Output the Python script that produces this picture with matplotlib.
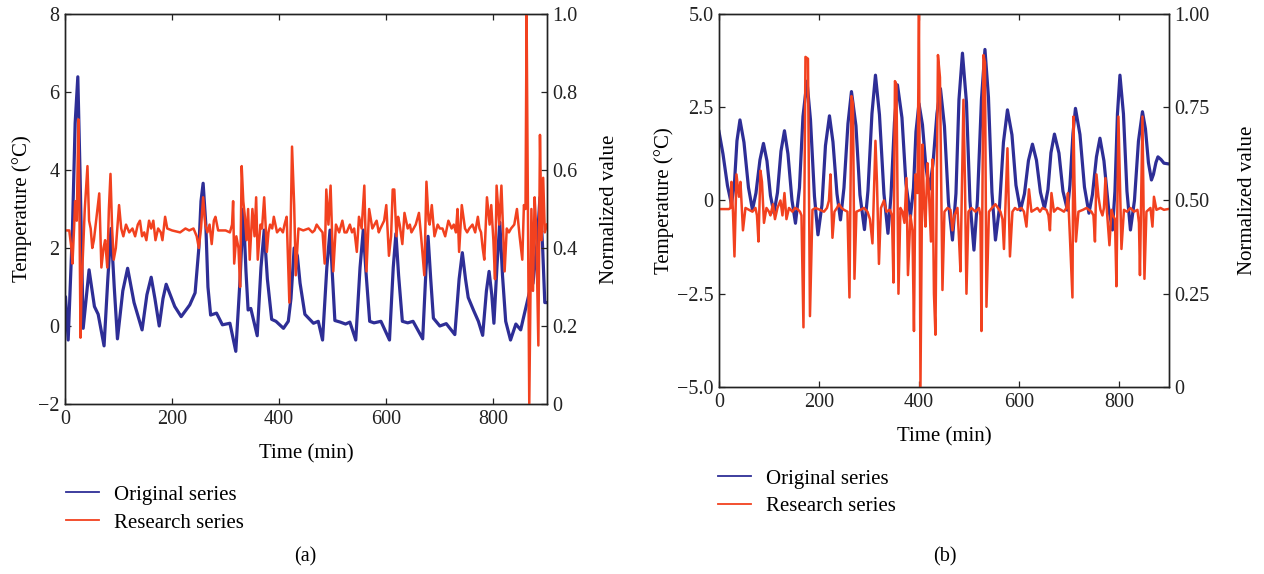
import matplotlib
matplotlib.use("Agg")
import matplotlib.pyplot as plt
from matplotlib.lines import Line2D

plt.rcParams['font.family'] = ['Liberation Serif', 'DejaVu Serif']

# ---- panel (a) data ----
a_orig_t = [0, 1, 6, 14, 19, 24, 28, 34, 45, 55, 62, 73, 80, 86, 92, 98, 108, 117, 129, 144,
            153, 161, 168, 176, 183, 189, 205, 217, 233, 243, 250, 254, 258, 263, 267, 272,
            283, 294, 308, 319, 327, 333, 338, 342, 347, 359, 366, 372, 378, 386, 394, 408,
            417, 422, 428, 434, 439, 448, 464, 473, 481, 489, 495, 499, 504, 514, 524, 532,
            543, 551, 557, 562, 569, 577, 590, 606, 613, 618, 623, 630, 640, 650, 668, 674,
            678, 683, 688, 700, 712, 728, 736, 742, 748, 753, 763, 772, 780, 787, 792, 797,
            801, 807, 812, 817, 823, 832, 842, 851, 856, 868, 874, 882, 887, 892, 896, 900]
a_orig_y = [0.7, 0.75, -0.36, 2.5, 5.2, 6.39, 4.0, -0.06, 1.44, 0.5, 0.3, -0.51, 1.2, 2.5,
            1.0, -0.33, 0.9, 1.48, 0.6, -0.1, 0.8, 1.25, 0.7, 0.0, 0.7, 1.07, 0.5, 0.24, 0.54,
            0.85, 2.0, 3.2, 3.66, 2.6, 1.0, 0.28, 0.33, 0.03, 0.07, -0.65, 1.2, 3.0, 1.4, 0.41,
            0.45, -0.25, 1.5, 2.46, 1.2, 0.17, 0.12, -0.06, 0.12, 0.7, 2.0, 1.8, 1.1, 0.3, 0.07,
            0.12, -0.36, 1.5, 2.46, 1.4, 0.14, 0.1, 0.05, 0.1, -0.36, 1.5, 2.46, 1.4, 0.12,
            0.08, 0.12, -0.36, 1.5, 2.37, 1.3, 0.12, 0.08, 0.12, -0.33, 1.4, 2.3, 1.2, 0.2,
            0.0, 0.06, -0.22, 1.2, 1.88, 1.2, 0.73, 0.4, 0.12, -0.24, 0.9, 1.4, 0.8, 0.07, 1.6,
            2.66, 1.3, 0.12, -0.36, 0.05, -0.1, 0.2, 0.9, 1.1, 2.2, 3.3, 2.0, 0.6, 0.6]
a_res_t = [0, 8, 12, 14, 17, 19, 22, 25, 27, 29, 31, 34, 37, 42, 45, 48, 51, 54, 59, 64, 68,
           72, 75, 79, 82, 85, 88, 91, 95, 101, 105, 109, 114, 120, 126, 131, 136, 140, 144,
           148, 152, 157, 161, 165, 169, 174, 179, 182, 187, 191, 200, 215, 225, 232, 240,
           246, 250, 254, 258, 262, 266, 270, 274, 278, 281, 286, 300, 308, 312, 314, 316,
           320, 324, 327, 330, 333, 336, 339, 342, 345, 350, 354, 357, 360, 365, 368, 372,
           375, 377, 380, 383, 387, 390, 396, 402, 407, 410, 414, 419, 424, 428, 431, 436,
           445, 455, 462, 466, 470, 475, 481, 485, 488, 492, 496, 501, 506, 512, 518, 522,
           526, 532, 536, 540, 545, 549, 554, 559, 563, 568, 574, 578, 582, 586, 589, 596,
           600, 605, 609, 612, 615, 619, 622, 625, 630, 634, 640, 644, 647, 651, 655, 661,
           665, 671, 675, 679, 681, 685, 690, 696, 700, 705, 710, 716, 722, 726, 730, 733,
           736, 741, 747, 751, 755, 761, 766, 771, 774, 777, 780, 783, 788, 793, 796, 800,
           803, 806, 811, 815, 818, 821, 825, 829, 833, 839, 844, 849, 854, 857, 860, 862,
           867, 871, 874, 877, 880, 884, 887, 890, 893, 896, 900]
a_res_y = [0.445, 0.445, 0.40, 0.36, 0.45, 0.52, 0.47, 0.73, 0.50, 0.17, 0.30, 0.40, 0.50,
           0.61, 0.47, 0.45, 0.40, 0.42, 0.48, 0.54, 0.35, 0.40, 0.42, 0.35, 0.50, 0.59, 0.45,
           0.37, 0.40, 0.51, 0.45, 0.43, 0.46, 0.44, 0.45, 0.43, 0.46, 0.47, 0.43, 0.44, 0.42,
           0.47, 0.45, 0.47, 0.42, 0.45, 0.44, 0.42, 0.48, 0.45, 0.445, 0.44, 0.45, 0.445,
           0.45, 0.43, 0.40, 0.45, 0.53, 0.46, 0.44, 0.46, 0.41, 0.47, 0.48, 0.445, 0.445,
           0.44, 0.46, 0.52, 0.36, 0.43, 0.40, 0.30, 0.61, 0.52, 0.48, 0.42, 0.50, 0.37, 0.50,
           0.43, 0.53, 0.37, 0.46, 0.45, 0.53, 0.45, 0.39, 0.44, 0.46, 0.45, 0.48, 0.44, 0.45,
           0.44, 0.46, 0.48, 0.26, 0.66, 0.51, 0.33, 0.45, 0.445, 0.45, 0.44, 0.445, 0.46,
           0.45, 0.44, 0.36, 0.55, 0.46, 0.56, 0.34, 0.46, 0.44, 0.47, 0.44, 0.44, 0.46, 0.44,
           0.45, 0.39, 0.48, 0.45, 0.56, 0.34, 0.50, 0.45, 0.46, 0.47, 0.44, 0.45, 0.47, 0.51,
           0.38, 0.43, 0.55, 0.55, 0.43, 0.48, 0.46, 0.41, 0.49, 0.45, 0.46, 0.44, 0.45, 0.46,
           0.49, 0.43, 0.33, 0.57, 0.47, 0.46, 0.51, 0.43, 0.46, 0.45, 0.45, 0.43, 0.47, 0.45,
           0.46, 0.44, 0.50, 0.39, 0.51, 0.45, 0.44, 0.45, 0.46, 0.44, 0.48, 0.45, 0.44, 0.40,
           0.37, 0.53, 0.46, 0.51, 0.42, 0.32, 0.56, 0.46, 0.56, 0.45, 0.34, 0.45, 0.44, 0.45,
           0.46, 0.50, 0.43, 0.37, 0.51, 0.50, 1.0, 0.0, 0.50, 0.29, 0.53, 0.45, 0.15, 0.69,
           0.42, 0.58, 0.44, 0.46]

# ---- panel (b) data ----
b_orig_t = [0, 8, 17, 25, 31, 36, 42, 50, 59, 67, 74, 82, 89, 96, 103, 110, 117, 124, 131,
            138, 146, 153, 161, 168, 176, 183, 191, 198, 206, 213, 221, 228, 236, 243, 250,
            258, 265, 274, 282, 291, 298, 306, 313, 321, 330, 338, 344, 351, 357, 366, 374,
            383, 389, 394, 400, 407, 414, 421, 428, 436, 443, 451, 459, 467, 474, 480, 487,
            495, 502, 510, 517, 525, 532, 539, 546, 553, 561, 569, 577, 586, 594, 603, 611,
            619, 627, 635, 643, 651, 658, 664, 671, 680, 688, 697, 702, 708, 713, 722, 731,
            740, 747, 755, 762, 770, 779, 787, 792, 797, 802, 809, 816, 823, 831, 839, 847,
            853, 859, 865, 869, 874, 878, 884, 890, 900]
b_orig_y = [1.85, 1.25, 0.4, -0.1, 0.47, 1.6, 2.16, 1.56, 0.35, -0.25, 0.2, 1.09, 1.53, 1.06,
            0.13, -0.34, 0.21, 1.32, 1.87, 1.25, 0.01, -0.61, 0.34, 2.25, 3.2, 2.17, 0.11,
            -0.92, -0.12, 1.47, 2.27, 1.57, 0.18, -0.52, 0.34, 2.06, 2.92, 2.0, 0.15, -0.78,
            0.26, 2.33, 3.36, 2.3, 0.18, -0.88, 0.12, 2.1, 3.1, 2.22, 0.45, -0.43, 0.33, 1.84,
            2.6, 2.03, 0.88, 0.3, 0.98, 2.33, 3.0, 1.99, -0.05, -1.06, 0.19, 2.7, 3.95, 2.63,
            -0.01, -1.33, 0.02, 2.71, 4.05, 2.77, 0.22, -1.06, -0.19, 1.56, 2.43, 1.76, 0.41,
            -0.26, 0.18, 1.07, 1.51, 1.08, 0.22, -0.21, 0.29, 1.28, 1.78, 1.27, 0.25, -0.26,
            0.42, 1.79, 2.47, 1.77, 0.36, -0.34, 0.16, 1.17, 1.67, 1.06, -0.18, -0.79, 0.25,
            2.32, 3.36, 2.32, 0.25, -0.79, 0.0, 1.59, 2.38, 1.92, 1.01, 0.55, 0.7, 1.02, 1.17,
            1.1, 1.0, 0.98]
b_res_t = [0, 20, 23, 25, 28, 31, 35, 40, 43, 48, 53, 60, 67, 73, 76, 79, 83, 86, 90, 95, 100,
           103, 108, 112, 117, 123, 127, 131, 135, 140, 147, 152, 157, 162, 165, 169, 173, 178,
           182, 187, 193, 202, 210, 216, 220, 223, 227, 231, 236, 240, 245, 250, 257, 261,
           265, 268, 271, 275, 283, 290, 297, 302, 307, 313, 316, 320, 324, 330, 335, 342,
           346, 349, 352, 355, 359, 363, 367, 371, 375, 378, 383, 387, 390, 393, 397, 400,
           403, 407, 410, 413, 417, 420, 424, 427, 430, 433, 438, 442, 447, 451, 457, 463,
           467, 471, 477, 480, 483, 489, 492, 495, 499, 505, 513, 520, 523, 525, 529, 532,
           535, 540, 546, 553, 558, 563, 567, 570, 577, 582, 587, 592, 597, 605, 610, 615,
           620, 625, 631, 637, 642, 647, 655, 659, 662, 665, 670, 677, 684, 690, 695, 698,
           702, 707, 709, 711, 714, 719, 728, 735, 740, 745, 749, 752, 755, 759, 763, 767,
           770, 773, 776, 781, 785, 788, 792, 795, 799, 802, 805, 810, 816, 823, 830, 837,
           840, 842, 847, 851, 855, 863, 867, 870, 875, 883, 890, 898]
b_res_y = [0.477, 0.477, 0.48, 0.55, 0.47, 0.35, 0.57, 0.51, 0.55, 0.42, 0.48, 0.475, 0.47,
           0.48, 0.46, 0.39, 0.58, 0.55, 0.44, 0.48, 0.47, 0.46, 0.49, 0.45, 0.48, 0.50, 0.46,
           0.52, 0.45, 0.48, 0.47, 0.48, 0.477, 0.47, 0.46, 0.16, 0.885, 0.88, 0.19, 0.475,
           0.48, 0.475, 0.47, 0.48, 0.50, 0.57, 0.40, 0.47, 0.48, 0.49, 0.48, 0.475, 0.47,
           0.24, 0.78, 0.76, 0.29, 0.47, 0.475, 0.48, 0.47, 0.45, 0.385, 0.66, 0.55, 0.33,
           0.48, 0.50, 0.47, 0.475, 0.46, 0.28, 0.82, 0.81, 0.25, 0.48, 0.47, 0.44, 0.56,
           0.30, 0.46, 0.42, 0.15, 0.57, 0.52, 1.0, 0.0, 0.65, 0.50, 0.43, 0.60, 0.52, 0.39,
           0.61, 0.25, 0.14, 0.89, 0.83, 0.26, 0.47, 0.48, 0.475, 0.42, 0.46, 0.48, 0.40,
           0.31, 0.77, 0.55, 0.25, 0.47, 0.48, 0.47, 0.48, 0.46, 0.15, 0.89, 0.87, 0.215,
           0.47, 0.48, 0.49, 0.48, 0.47, 0.45, 0.37, 0.64, 0.35, 0.47, 0.48, 0.475, 0.48,
           0.47, 0.43, 0.53, 0.47, 0.475, 0.48, 0.47, 0.48, 0.475, 0.46, 0.42, 0.52, 0.47,
           0.48, 0.475, 0.47, 0.48, 0.52, 0.40, 0.24, 0.725, 0.55, 0.39, 0.47, 0.475, 0.48,
           0.475, 0.47, 0.46, 0.39, 0.57, 0.51, 0.475, 0.46, 0.48, 0.56, 0.47, 0.38, 0.475,
           0.46, 0.45, 0.27, 0.725, 0.55, 0.37, 0.475, 0.47, 0.48, 0.47, 0.475, 0.44, 0.30,
           0.725, 0.29, 0.47, 0.48, 0.43, 0.51, 0.475, 0.48, 0.475, 0.477]

labels = ['Original series', 'Research series']
blue = '#2e2e96'
red = '#f2411f'
M = '\u2212'
fs = 14.5


def style(ax, ax2):
    for a in (ax, ax2):
        for s in a.spines.values():
            s.set_color('#222222')
            s.set_linewidth(1.0)
        a.tick_params(direction='in', length=4, width=0.9, labelsize=fs, colors='#222222',
                      pad=4)
    ax.tick_params(top=True, right=False)
    ax2.tick_params(left=False, right=True)
    ax.set_xlim(0, 900)
    ax.set_xticks([0, 200, 400, 600, 800])
    ax.set_xlabel('Time (min)', fontsize=fs + 0.5, labelpad=11)


fig = plt.figure(figsize=(12.64, 5.74), dpi=100)

# panel (a)
ax1 = fig.add_axes([0.0514, 0.2962, 0.3813, 0.6794])
ax1b = ax1.twinx()
ax1.plot(a_orig_t, a_orig_y, color=blue, lw=2.3)
ax1b.plot(a_res_t, a_res_y, color=red, lw=1.8)
ax1.set_ylim(-2, 8)
ax1.set_yticks([-2, 0, 2, 4, 6, 8])
ax1.set_yticklabels([M + '2', '0', '2', '4', '6', '8'])
ax1b.set_ylim(0, 1)
ax1b.set_yticks([0, 0.2, 0.4, 0.6, 0.8, 1.0])
ax1b.set_yticklabels(['0', '0.2', '0.4', '0.6', '0.8', '1.0'])
ax1.set_ylabel('Temperature (°C)', fontsize=fs + 0.5, labelpad=4)
ax1b.set_ylabel('Normalized value', fontsize=fs + 0.5, labelpad=16)
style(ax1, ax1b)

# panel (b)
ax2 = fig.add_axes([0.5688, 0.3258, 0.356, 0.6498])
ax2b = ax2.twinx()
ax2.plot(b_orig_t, b_orig_y, color=blue, lw=2.3)
ax2b.plot(b_res_t, b_res_y, color=red, lw=1.8)
ax2.set_ylim(-5, 5)
ax2.set_yticks([-5, -2.5, 0, 2.5, 5])
ax2.set_yticklabels([M + '5.0', M + '2.5', '0', '2.5', '5.0'])
ax2b.set_ylim(0, 1)
ax2b.set_yticks([0, 0.25, 0.5, 0.75, 1.0])
ax2b.set_yticklabels(['0', '0.25', '0.50', '0.75', '1.00'])
ax2.set_ylabel('Temperature (°C)', fontsize=fs + 0.5, labelpad=2)
ax2b.set_ylabel('Normalized value', fontsize=fs + 0.5, labelpad=20)
style(ax2, ax2b)

handles = [Line2D([], [], color=blue, lw=1.3), Line2D([], [], color=red, lw=1.3)]
for x0, y0 in [(0.052, 0.155), (0.568, 0.183)]:
    fig.legend(handles, labels, loc='upper left', bbox_to_anchor=(x0, y0),
               bbox_transform=fig.transFigure, frameon=False, fontsize=fs + 0.5,
               handlelength=1.6, handletextpad=0.7, labelspacing=0.4,
               borderpad=0, borderaxespad=0)

fig.text(0.2413, 0.0296, '(a)', ha='center', va='center', fontsize=fs)
fig.text(0.7476, 0.0296, '(b)', ha='center', va='center', fontsize=fs)

fig.savefig('out.png', dpi=100)
